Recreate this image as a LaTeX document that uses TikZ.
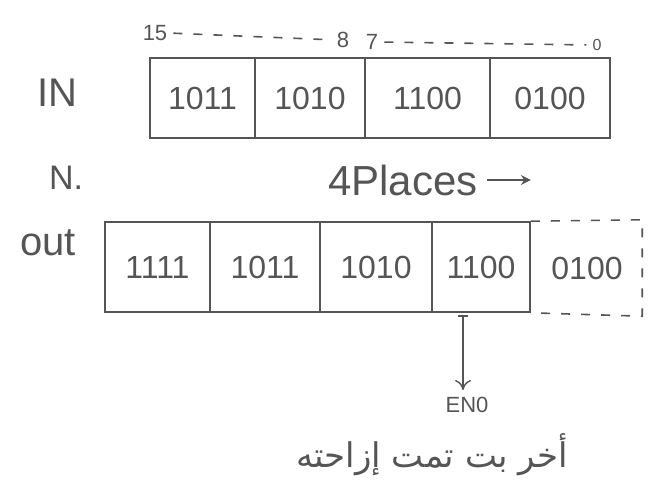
\documentclass[tikz,border=0pt]{standalone}
\usepackage{fontspec}
\setmainfont{Liberation Sans}
\newfontfamily\arabicfont[Script=Arabic]{DejaVu Sans}
\TeXXeTstate=1
\usetikzlibrary{arrows.meta,calc}
\definecolor{ink}{HTML}{555555}
\tikzset{
  cell/.style={draw=ink, line width=1.6pt, minimum height=#1, inner sep=0pt, text=ink, font=\fontsize{32}{32}\selectfont},
  lbl/.style={text=ink, inner sep=1pt, font=\fontsize{40}{40}\selectfont},
  bitno/.style={text=ink, inner sep=1pt, font=\fontsize{22}{22}\selectfont},
  dashline/.style={draw=ink, line width=1.6pt, dash pattern=on 9pt off 11pt},
  ink line/.style={draw=ink, line width=1.4pt}
}
\begin{document}
\begin{tikzpicture}[x=1pt,y=-1pt]
\useasboundingbox (0,0) rectangle (668,496);
% bit numbers
\node[bitno] (b15) at (155,33) {15};
\node[bitno] (b8) at (343,40) {8};
\node[bitno] (b7) at (372,42) {7};
\node[bitno, font=\fontsize{16}{16}\selectfont] (b0) at (597,45) {0};
\draw[dashline, shorten <=5pt, shorten >=5pt] (b15.east) -- (b8.west);
\draw[dashline, shorten <=5pt, shorten >=5pt] (b7.east) -- (b0.west);
% IN register
\node[lbl] (inl) at (57,93) {IN};
\node[cell=80pt, minimum width=105pt] (i1) at (202.5,98) {1011};
\node[cell=80pt, minimum width=110pt] (i2) at (310,98) {1010};
\node[cell=80pt, minimum width=125pt] (i3) at (427.5,98) {1100};
\node[cell=80pt, minimum width=120pt] (i4) at (550,98) {0100};
% N and places
\node[lbl, font=\fontsize{34}{34}\selectfont] (nl) at (66,178) {N.};
\node[lbl, font=\fontsize{42}{42}\selectfont] (pl) at (403,180) {4Places};
\coordinate (pa0) at ($(pl.east)+(8,0)$);
\coordinate (pa1) at ($(pl.east)+(52,0)$);
\draw[ink line, -{Stealth[length=10pt,width=10pt]}] (pa0) -- (pa1);
% OUT register
\node[lbl] (outl) at (48,243) {out};
\node[cell=90pt, minimum width=105pt] (o1) at (157.5,267) {1111};
\node[cell=90pt, minimum width=110pt] (o2) at (265,267) {1011};
\node[cell=90pt, minimum width=112pt] (o3) at (376,267) {1010};
\node[cell=90pt, minimum width=98pt] (o4) at (481,267) {1100};
\node[text=ink, inner sep=0pt, minimum width=110pt, minimum height=96pt, font=\fontsize{32}{32}\selectfont] (o5) at (587,268) {0100};
\draw[dashline] (o4.north east) -- (o5.north east) -- (o5.south east) -- (o4.south east);
% last shifted bit
\coordinate (tk) at (463,316);
\draw[ink line] ($(tk)+(-5,0)$) -- ($(tk)+(5,0)$);
\node[text=ink, inner sep=1pt, font=\fontsize{22}{22}\selectfont] (en) at (467,405) {EN0};
\draw[ink line, shorten >=6pt, -{To[length=10pt,width=16pt,line width=1.4pt]}] (tk) -- (tk |- en.north);
\node[text=ink, inner sep=1pt, font=\arabicfont\fontsize{34}{34}\selectfont] (ar) at (432,455) {\beginR أخر بت تمت إزاحته\endR};
\end{tikzpicture}
\end{document}
